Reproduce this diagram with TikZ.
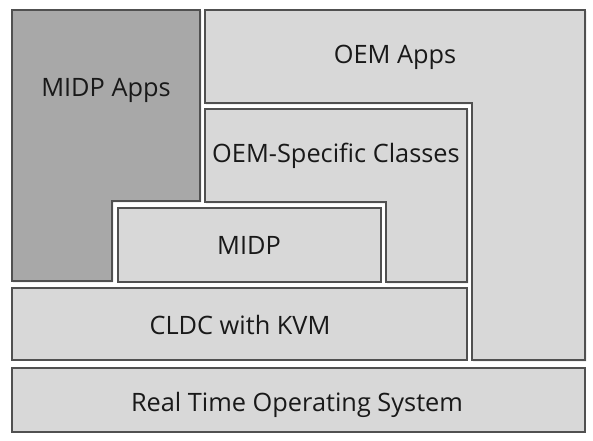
\documentclass[tikz,border=0pt]{standalone}
\usepackage{fontspec}
\setmainfont{Open Sans}
\usetikzlibrary{shadows}

\tikzset{every picture/.style={line width=0.75pt}}
\tikzset{
  layer/.style={draw={rgb,255:red,80;green,80;blue,80}, fill={rgb,255:red,216;green,216;blue,216}, line width=1.1pt,
    drop shadow={shadow xshift=0.9pt, shadow yshift=-0.9pt, opacity=0.7, fill=black!70}},
  applayer/.style={layer, fill={rgb,255:red,168;green,168;blue,168}},
  label/.style={inner sep=0.75pt, font=\fontsize{19}{22}\selectfont, text={rgb,255:red,25;green,25;blue,25}}
}

\begin{document}
\begin{tikzpicture}[x=0.75pt,y=0.75pt,yscale=-1,xscale=1]
\useasboundingbox (0,0) rectangle (593,441);

%Shape: MIDP Apps
\draw [applayer] (12,10) -- (200,10) -- (200,201) -- (112,201) -- (112,281) -- (12,281) -- cycle ;
%Shape: OEM Apps
\draw [layer] (205,10) -- (585,10) -- (585,360) -- (472,360) -- (472,103) -- (205,103) -- cycle ;
%Shape: OEM-Specific Classes
\draw [layer] (205,109) -- (467,109) -- (467,282) -- (386,282) -- (386,202) -- (205,202) -- cycle ;
%Shape: MIDP
\draw [layer] (118,208) -- (381,208) -- (381,282) -- (118,282) -- cycle ;
%Shape: CLDC
\draw [layer] (12,288) -- (467,288) -- (467,360) -- (12,360) -- cycle ;
%Shape: RTOS
\draw [layer] (12,368) -- (585,368) -- (585,432) -- (12,432) -- cycle ;

% Text Node
\node [label] (midpapps) at (106,90) {MIDP Apps};
% Text Node
\node [label] (oemapps) at (395,57) {OEM Apps};
% Text Node
\node [label] (oemclasses) at (336,156) {OEM-Specific Classes};
% Text Node
\node [label] (midp) at (249,245) {MIDP};
% Text Node
\node [label] (cldc) at (240,325) {CLDC with KVM};
% Text Node
\node [label] (rtos) at (297,405) {Real Time Operating System};

\end{tikzpicture}
\end{document}
